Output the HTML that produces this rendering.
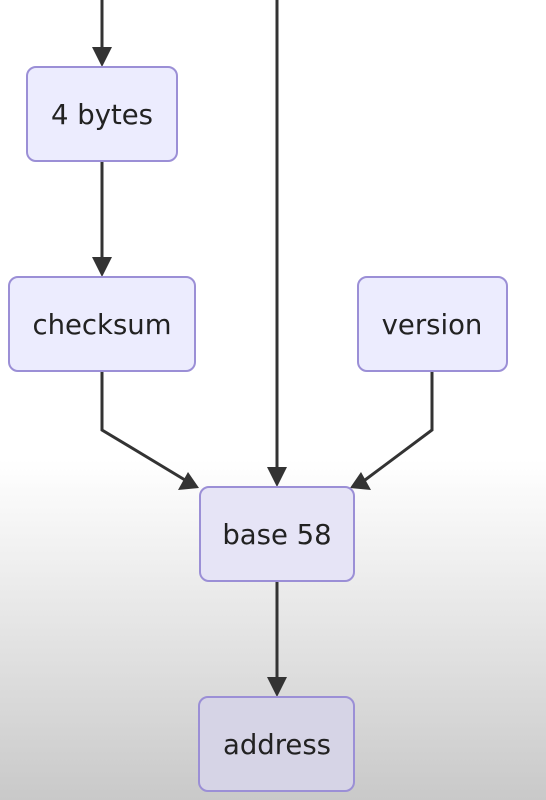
<!DOCTYPE html>
<html><head><style>
html,body{margin:0;padding:0;}
body{width:546px;height:800px;overflow:hidden;background:linear-gradient(to bottom,#ffffff 0px,#ffffff 460px,#e6e6e6 620px,#c9c9c9 800px);}
svg{display:block}
text{font-family:"DejaVu Sans","Liberation Sans",sans-serif;font-size:27.5px;fill:#222;text-anchor:middle;dominant-baseline:central}
</style></head><body>
<svg width="546" height="800" viewBox="0 0 546 800">
<g stroke="#333" stroke-width="3" fill="none">
<line x1="102" y1="0" x2="102" y2="50"/>
<line x1="102" y1="161" x2="102" y2="260"/>
<line x1="277" y1="0" x2="277" y2="470"/>
<polyline points="102,371 102,430 185,480"/>
<polyline points="432,371 432,430 365,480"/>
<line x1="277" y1="581" x2="277" y2="680"/>
</g>
<g fill="#333">
<polygon points="92,47 112,47 102,67"/>
<polygon points="92,257 112,257 102,277"/>
<polygon points="267,467 287,467 277,487"/>
<polygon points="267,677 287,677 277,697"/>
<polygon points="178,490 199,488 188,472"/>
<polygon points="350,488 371,490 361,472"/>
</g>
<g stroke="#9b8fd6" stroke-width="2">
<rect x="27" y="67" width="150" height="94" rx="9" fill="#ececfe"/>
<rect x="9" y="277" width="186" height="94" rx="9" fill="#ececfe"/>
<rect x="358" y="277" width="149" height="94" rx="9" fill="#ececfe"/>
<rect x="200" y="487" width="154" height="94" rx="9" fill="#e6e4f6"/>
<rect x="199" y="697" width="155" height="94" rx="9" fill="#d6d4e6"/>
</g>
<text x="102" y="115">4 bytes</text>
<text x="102" y="325">checksum</text>
<text x="432" y="325">version</text>
<text x="277" y="535">base 58</text>
<text x="277" y="745">address</text>
</svg>
</body></html>
